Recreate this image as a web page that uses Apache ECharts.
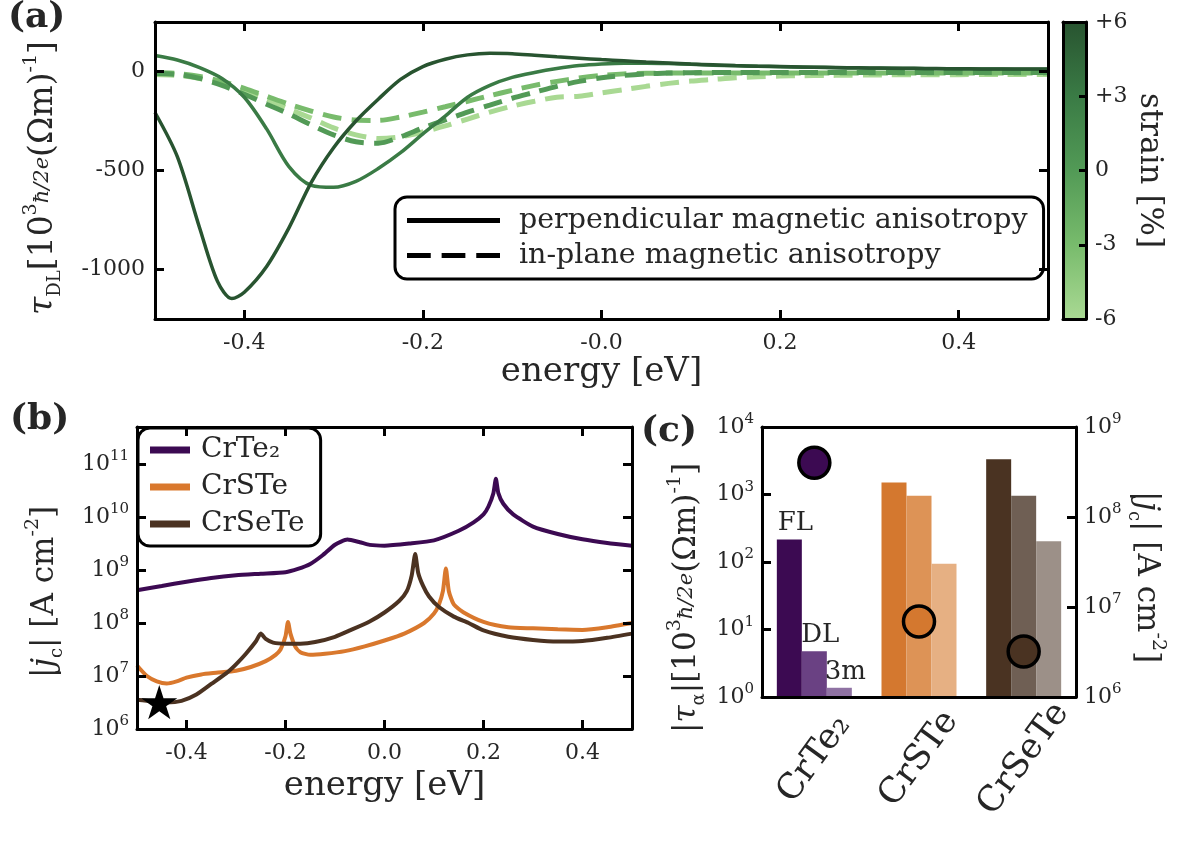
<!DOCTYPE html>
<html lang="en">
<head>
<meta charset="UTF-8">
<title>strain / critical current figure</title>
<script src="https://cdn.jsdelivr.net/npm/echarts@6/dist/echarts.min.js"></script>
<style>
    html, body { margin: 0; padding: 0; background: #fff; }
    #chart { width: 1180px; height: 843px; }
</style>
</head>
<body>
<div id="chart"></div>
<script>
// ---------- panel (a): tau_DL vs energy, one curve per strain ----------
var energyA = [-0.5, -0.475, -0.45, -0.425, -0.4, -0.375, -0.35, -0.325, -0.3, -0.275,
    -0.25, -0.225, -0.2, -0.175, -0.15, -0.125, -0.1, -0.075, -0.05, -0.025,
    0, 0.025, 0.05, 0.075, 0.1, 0.125, 0.15, 0.175, 0.2, 0.225,
    0.25, 0.275, 0.3, 0.325, 0.35, 0.375, 0.4, 0.425, 0.45, 0.475, 0.5];
// the +6 % curve has a sharper dip, so it gets a few extra points
var energyP6 = [-0.5, -0.475, -0.45, -0.43, -0.414, -0.4, -0.375, -0.35, -0.325, -0.3, -0.275,
    -0.25, -0.225, -0.2, -0.175, -0.15, -0.125, -0.1, -0.075, -0.05, -0.025,
    0, 0.025, 0.05, 0.075, 0.1, 0.125, 0.15, 0.175, 0.2, 0.225,
    0.25, 0.275, 0.3, 0.325, 0.35, 0.375, 0.4, 0.425, 0.45, 0.475, 0.5];
var strains = [6, 3, 0, -3, -6];
var tauP6 = [-207, -430, -790, -1060, -1147, -1115, -985, -790, -560, -385, -250,
    -140, -40, 25, 62, 84, 92, 90, 82, 74, 67,
    60, 54, 48, 43, 38, 34, 30, 27, 25, 23,
    21, 19, 18, 17, 16, 15, 14, 13, 13, 12, 12];
var tauP3 = [81, 58, 20, -35, -130, -290, -480, -575, -585, -555,
    -490, -410, -315, -225, -130, -70, -30, -5, 15, 30,
    38, 42, 42, 40, 36, 32, 29, 26, 24, 22,
    20, 18, 17, 16, 15, 14, 13, 12, 12, 11, 11];
var tau0 = [-10, -15, -35, -70, -115, -165, -215, -270, -320, -355,
    -362, -330, -285, -245, -205, -170, -135, -105, -75, -50,
    -32, -20, -12, -8, -6, -5, -5, -5, -5, -5,
    -5, -5, -5, -5, -5, -5, -5, -5, -5, -5, -5];
var tauM3 = [-5, -10, -25, -50, -85, -125, -165, -200, -230, -245,
    -247, -230, -205, -178, -150, -122, -95, -70, -50, -33,
    -20, -12, -9, -8, -8, -8, -8, -8, -8, -8,
    -8, -8, -8, -8, -8, -8, -8, -8, -8, -8, -8];
var tauM6 = [-15, -20, -35, -60, -95, -140, -190, -235, -285, -320,
    -338, -330, -305, -275, -240, -205, -175, -150, -130, -125,
    -108, -92, -75, -60, -48, -40, -32, -27, -23, -21,
    -20, -19, -18, -17, -17, -16, -16, -15, -15, -15, -15];
var tauByStrain = [tauP6, tauP3, tau0, tauM3, tauM6];
var energyByStrain = [energyP6, energyA, energyA, energyA, energyA];

// ---------- panel (b): |j_c| vs energy ----------
var materials = ['CrTe₂', 'CrSTe', 'CrSeTe'];
var energyCrTe2 = [-0.5, -0.45, -0.4, -0.35, -0.3, -0.25, -0.2, -0.175, -0.15, -0.125, -0.1, -0.075,
    -0.05, -0.03, 0, 0.05, 0.1, 0.15, 0.18, 0.2, 0.21, 0.22, 0.225, 0.23, 0.24, 0.26,
    0.3, 0.35, 0.4, 0.45, 0.5];
var jcCrTe2 = [4.17e8, 5.01e8, 6.03e8, 7.08e8, 7.94e8, 8.51e8, 9.12e8, 1.05e9, 1.3e9, 1.9e9, 3.0e9, 3.75e9,
    3.35e9, 2.98e9, 2.88e9, 3.16e9, 3.63e9, 5.5e9, 7.94e9, 1.12e10, 1.58e10, 2.82e10, 5.25e10, 2.82e10, 1.78e10, 1.12e10,
    6.61e9, 4.79e9, 3.8e9, 3.24e9, 2.88e9];
var energyCrSTe = [-0.5, -0.48, -0.46, -0.44, -0.42, -0.4, -0.37, -0.34, -0.3, -0.27, -0.24, -0.22, -0.21,
    -0.2, -0.195, -0.19, -0.18, -0.17, -0.15, -0.12, -0.08, -0.04, 0, 0.04, 0.08, 0.1, 0.11,
    0.118, 0.124, 0.13, 0.14, 0.16, 0.2, 0.25, 0.3, 0.35, 0.4, 0.45, 0.5];
var jcCrSTe = [1.58e7, 1.0e7, 7.94e6, 7.24e6, 7.94e6, 9.33e6, 1.07e7, 1.15e7, 1.26e7, 1.48e7, 1.91e7, 2.51e7, 3.16e7,
    5.62e7, 1.05e8, 6.31e7, 3.55e7, 2.82e7, 2.51e7, 2.63e7, 2.95e7, 3.63e7, 4.68e7, 6.31e7, 1.0e8, 1.51e8, 2.24e8,
    3.98e8, 1.07e9, 3.98e8, 2.24e8, 1.58e8, 1.05e8, 8.32e7, 7.94e7, 7.59e7, 7.41e7, 8.32e7, 1.0e8];
var energyCrSeTe = [-0.5, -0.47, -0.44, -0.41, -0.38, -0.35, -0.32, -0.3, -0.28, -0.26, -0.25, -0.24,
    -0.225, -0.2, -0.17, -0.14, -0.1, -0.07, -0.03, 0, 0.03, 0.045, 0.055, 0.062, 0.068,
    0.078, 0.09, 0.11, 0.14, 0.17, 0.2, 0.25, 0.3, 0.35, 0.4, 0.45, 0.5];
var jcCrSeTe = [3.55e6, 3.31e6, 3.16e6, 3.39e6, 4.47e6, 7.08e6, 1.12e7, 1.66e7, 2.63e7, 4.47e7, 6.31e7, 5.01e7,
    4.27e7, 4.07e7, 4.07e7, 4.37e7, 5.5e7, 7.24e7, 1.07e8, 1.58e8, 2.63e8, 3.98e8, 7.94e8, 2.0e9, 8.91e8,
    5.01e8, 3.16e8, 2.0e8, 1.32e8, 1.0e8, 7.24e7, 5.5e7, 4.79e7, 4.47e7, 4.57e7, 5.25e7, 6.31e7];
var starEnergy = [-0.455];
var starJc = [3.2e6];

// ---------- panel (c): torques (bars) and minimal j_c (circles) ----------
var torqueFL = [215, 1510, 3330];
var torqueDL = [4.75, 960, 960];
var torque3m = [1.37, 94, 203];
var jcMin = [4.0e8, 6.9e6, 3.2e6];

// ---------- styles ----------
var FONT = 'DejaVu Serif';
var INK = '#000';
var TXT = '#262626';
var strainColors = ['#285430', '#3a7b45', '#529a56', '#78bb6c', '#a9d993'];
var matColors = ['#3c0a52', '#d9782d', '#4b3221'];
var colorsFL = ['#3c0a52', '#d4782f', '#4a3322'];
var colorsDL = ['#6a4183', '#dd9356', '#6f5f54'];
var colors3m = ['#8f72a3', '#e6b083', '#9c9088'];
var PMA = 'perpendicular magnetic anisotropy';
var IPA = 'in-plane magnetic anisotropy';

function frame(extra) {
    var base = {
        z: 10,
        axisLine: { show: true, onZero: false, lineStyle: { color: INK, width: 3 } },
        axisTick: { show: true, inside: true, length: 9, lineStyle: { color: INK, width: 3 } },
        splitLine: { show: false },
        axisLabel: { show: false }
    };
    return Object.assign(base, extra);
}

var supRich = {
    b: { fontFamily: FONT, fontSize: 22, lineHeight: 30, color: TXT },
    s: { fontFamily: FONT, fontSize: 15, lineHeight: 15, verticalAlign: 'top', color: TXT }
};
function powLabel(v) {
    var n = Math.log10(v);
    if (Math.abs(n - Math.round(n)) > 1e-6) return '';
    return '{b|10}{s|' + Math.round(n) + '}';
}
function nameRich(size) {
    return {
        n: { fontFamily: FONT, fontSize: size, lineHeight: 42, fill: TXT },
        i: { fontFamily: FONT, fontSize: size, lineHeight: 42, fontStyle: 'italic', fill: TXT },
        sup: { fontFamily: FONT, fontSize: 19, lineHeight: 19, verticalAlign: 'top', fill: TXT },
        sub: { fontFamily: FONT, fontSize: 18, lineHeight: 18, verticalAlign: 'bottom', fill: TXT },
        f: { fontFamily: FONT, fontSize: 21, lineHeight: 42, fontStyle: 'italic', fill: TXT }
    };
}
function axisTitle(x, y, rot, text, size) {
    return {
        type: 'text', x: x, y: y, rotation: rot, z: 20,
        style: { text: text, rich: nameRich(size), fontFamily: FONT, fontSize: size, fill: TXT,
            align: 'center', verticalAlign: 'middle' }
    };
}
var tickFont = { fontFamily: FONT, fontSize: 22, color: TXT };

function fmtEnergy(v, minusZero) {
    if (Math.abs(v * 5 - Math.round(v * 5)) > 1e-6) return '';
    if (Math.abs(v) < 1e-9) return minusZero ? '-0.0' : '0.0';
    return v.toFixed(1);
}

// ---------- series ----------
var series = [];
// dashed (in-plane) first, solid (perpendicular) on top
[4, 3, 2, 1, 0].forEach(function (k) {
    var solid = strains[k] > 0;
    series.push({
        type: 'line', name: solid ? PMA : IPA,
        xAxisIndex: 0, yAxisIndex: 0,
        symbol: 'none', smooth: 0.3,
        data: energyByStrain[k].map(function (e, i) { return [e, tauByStrain[k][i]]; }),
        lineStyle: { color: strainColors[k], width: solid ? 3.5 : 5, type: solid ? 'solid' : [19, 10] },
        z: solid ? 4 : 3
    });
});

// colour bar: gradient built from the strain/colour pairs
series.push({
    type: 'line', xAxisIndex: 2, yAxisIndex: 2, data: [], silent: true,
    markArea: {
        silent: true,
        itemStyle: {
            color: new echarts.graphic.LinearGradient(0, 0, 0, 1, strains.map(function (s, i) {
                return { offset: (6 - s) / 12, color: strainColors[i] };
            }))
        },
        data: [[{ yAxis: -6 }, { yAxis: 6 }]]
    }
});

var bEnergy = [energyCrTe2, energyCrSTe, energyCrSeTe];
var bJc = [jcCrTe2, jcCrSTe, jcCrSeTe];
materials.forEach(function (m, k) {
    series.push({
        type: 'line', name: m, xAxisIndex: 4, yAxisIndex: 4,
        symbol: 'none', smooth: 0.2,
        data: bEnergy[k].map(function (e, i) { return [e, bJc[k][i]]; }),
        lineStyle: { color: matColors[k], width: 4 }
    });
});
series.push({
    type: 'scatter', name: 'minimum', xAxisIndex: 4, yAxisIndex: 4,
    symbol: 'path://M50,0L61.2,34.5L97.6,34.5L68.2,55.9L79.4,90.5L50,69.1L20.6,90.5L31.8,55.9L2.4,34.5L38.8,34.5Z',
    symbolSize: 36, symbolKeepAspect: true, z: 6,
    itemStyle: { color: INK, opacity: 1 },
    data: starEnergy.map(function (e, i) { return [e, starJc[i]]; })
});

function barSeries(name, values, colors) {
    return {
        type: 'bar', name: name, xAxisIndex: 6, yAxisIndex: 6,
        barWidth: 25, barGap: '0%',
        data: values.map(function (v, i) {
            return { value: v, itemStyle: { color: colors[i] }, label: { show: i === 0 } };
        }),
        label: { position: 'top', distance: 3, offset: [6, 0], formatter: '{a}', fontFamily: FONT, fontSize: 26, color: TXT }
    };
}
series.push(barSeries('FL', torqueFL, colorsFL));
series.push(barSeries('DL', torqueDL, colorsDL));
series.push(barSeries('3m', torque3m, colors3m));
series.push({
    type: 'scatter', name: 'jc', xAxisIndex: 7, yAxisIndex: 7, z: 6,
    symbolSize: 31,
    data: jcMin.map(function (v, i) {
        return { value: [materials[i], v], itemStyle: { color: colorsFL[i], opacity: 1, borderColor: INK, borderWidth: 3.5 } };
    })
});

var option = {
    animation: false,
    backgroundColor: '#fff',
    textStyle: { fontFamily: FONT, color: TXT },
    title: [
        { text: '(a)', left: 8, top: 0, padding: 0, textStyle: { fontFamily: FONT, fontSize: 36, fontWeight: 'bold', color: TXT } },
        { text: '(b)', left: 10, top: 402, padding: 0, textStyle: { fontFamily: FONT, fontSize: 36, fontWeight: 'bold', color: TXT } },
        { text: '(c)', left: 641, top: 414, padding: 0, textStyle: { fontFamily: FONT, fontSize: 36, fontWeight: 'bold', color: TXT } }
    ],
    graphic: [
        axisTitle(43, 178, Math.PI / 2, '{i|τ}{sub|DL}{n|[10}{sup|3}{f|ħ/2e}{n|(Ωm)}{sup|-1}{n|]}', 33),
        axisTitle(45, 592, Math.PI / 2, '{n||}{i|j}{sub|c}{n|| [A cm}{sup|-2}{n|]}', 31),
        axisTitle(687, 598, Math.PI / 2, '{n||}{i|τ}{sub|α}{n||[10}{sup|3}{f|ħ/2e}{n|(Ωm)}{sup|-1}{n|]}', 31),
        axisTitle(1146, 577, -Math.PI / 2, '{n||}{i|j}{sub|c}{n|| [A cm}{sup|-2}{n|]}', 31)
    ],
    grid: [
        { left: 155, top: 22, width: 893, height: 297, outerBoundsMode: 'none' },
        { left: 1063, top: 22, width: 23, height: 297, outerBoundsMode: 'none' },
        { left: 137, top: 427, width: 495, height: 302, outerBoundsMode: 'none' },
        { left: 762, top: 427, width: 314, height: 270, outerBoundsMode: 'none' }
    ],
    legend: [
        {
            orient: 'vertical', left: 395, top: 197, padding: [9, 16, 9, 12], itemGap: 6,
            itemWidth: 93, itemHeight: 5, backgroundColor: '#fff', borderColor: INK, borderWidth: 3, borderRadius: 12,
            textStyle: { fontFamily: FONT, fontSize: 28.5, color: TXT, padding: [0, 0, 0, 14] },
            data: [
                { name: PMA, icon: 'rect', itemStyle: { color: INK, borderWidth: 0 } },
                { name: IPA, icon: 'path://M0,0H24V5H0Z M35,0H59V5H35Z M70,0H94V5H70Z', itemStyle: { color: INK, borderWidth: 0 } }
            ]
        },
        {
            orient: 'vertical', left: 138, top: 428, padding: [8, 16, 8, 12], itemGap: 9,
            itemWidth: 40, itemHeight: 7, backgroundColor: '#fff', borderColor: INK, borderWidth: 3, borderRadius: 12,
            textStyle: { fontFamily: FONT, fontSize: 28, color: TXT, padding: [0, 0, 0, 6] },
            data: materials.map(function (m, i) {
                return { name: m, icon: 'rect', itemStyle: { color: matColors[i], borderWidth: 0 } };
            })
        }
    ],
    xAxis: [
        frame({ gridIndex: 0, type: 'value', min: -0.5, max: 0.5,
            axisLabel: Object.assign({ show: true, margin: 13, formatter: function (v) { return fmtEnergy(v, true); } }, tickFont),
            name: 'energy [eV]', nameLocation: 'middle', nameGap: 26,
            nameTextStyle: { fontFamily: FONT, fontSize: 34, color: TXT } }),
        frame({ gridIndex: 0, type: 'value', min: -0.5, max: 0.5, position: 'top' }),
        frame({ gridIndex: 1, type: 'value', min: 0, max: 1, axisTick: { show: false } }),
        frame({ gridIndex: 1, type: 'value', min: 0, max: 1, position: 'top', axisTick: { show: false } }),
        frame({ gridIndex: 2, type: 'value', min: -0.5, max: 0.5,
            axisLabel: Object.assign({ show: true, margin: 13, formatter: function (v) { return fmtEnergy(v, false); } }, tickFont),
            name: 'energy [eV]', nameLocation: 'middle', nameGap: 40,
            nameTextStyle: { fontFamily: FONT, fontSize: 34, color: TXT } }),
        frame({ gridIndex: 2, type: 'value', min: -0.5, max: 0.5, position: 'top' }),
        frame({ gridIndex: 3, type: 'category', data: materials, axisTick: { show: false },
            axisLabel: { show: true, rotate: 54, align: 'center', verticalAlign: 'middle', margin: 62,
                fontFamily: FONT, fontSize: 35, color: TXT } }),
        frame({ gridIndex: 3, type: 'category', data: materials, position: 'top', axisTick: { show: false } })
    ],
    yAxis: [
        frame({ gridIndex: 0, type: 'value', min: -1250, max: 250, splitNumber: 3,
            axisLabel: Object.assign({ show: true, margin: 10, formatter: function (v) { return v % 500 === 0 ? String(v) : ''; } }, tickFont) }),
        frame({ gridIndex: 0, type: 'value', min: -1250, max: 250, splitNumber: 3, position: 'right' }),
        frame({ gridIndex: 1, type: 'value', min: -6, max: 6, interval: 3, axisTick: { show: false } }),
        frame({ gridIndex: 1, type: 'value', min: -6, max: 6, interval: 3, position: 'right',
            axisTick: { show: true, inside: true, length: 7, lineStyle: { color: INK, width: 3 } },
            axisLabel: Object.assign({ show: true, margin: 9, formatter: function (v) { return v > 0 ? '+' + v : String(v); } }, tickFont),
            name: 'strain [%]', nameLocation: 'middle', nameRotate: -90, nameGap: 48,
            nameTextStyle: { fontFamily: FONT, fontSize: 31, color: TXT } }),
        frame({ gridIndex: 2, type: 'log', logBase: 10, min: 1e6, max: 5e11,
            axisLabel: { show: true, margin: 8, formatter: powLabel, rich: supRich } }),
        frame({ gridIndex: 2, type: 'log', logBase: 10, min: 1e6, max: 5e11, position: 'right' }),
        frame({ gridIndex: 3, type: 'log', logBase: 10, min: 1, max: 1e4,
            axisLabel: { show: true, margin: 8, formatter: powLabel, rich: supRich } }),
        frame({ gridIndex: 3, type: 'log', logBase: 10, min: 1e6, max: 1e9, position: 'right',
            axisLabel: { show: true, margin: 8, formatter: powLabel, rich: supRich } })
    ],
    series: series
};

var chart = echarts.init(document.getElementById('chart'));
chart.setOption(option);
</script>
</body>
</html>
